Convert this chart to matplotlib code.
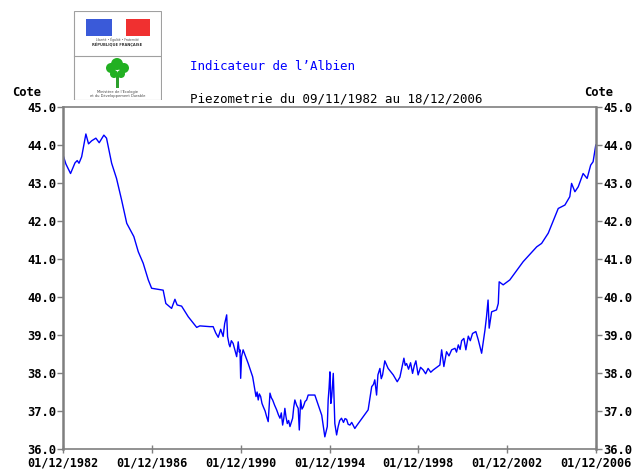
import numpy as np
import matplotlib.pyplot as plt
from matplotlib.patches import Rectangle, Circle

# Piezometrie de l'Albien, dates en annees decimales
annees = [1982.92, 1983.05, 1983.26, 1983.46, 1983.56, 1983.64, 1983.76, 1983.95, 1984.07, 1984.21,
          1984.40, 1984.55, 1984.76, 1984.88, 1985.11, 1985.33, 1985.56, 1985.79, 1986.11, 1986.31,
          1986.53, 1986.76, 1986.91, 1987.43, 1987.55, 1987.81, 1987.96, 1988.06, 1988.26, 1988.56,
          1988.94, 1989.08, 1989.53, 1989.68, 1989.80, 1989.91, 1990.02, 1990.13, 1990.20, 1990.29,
          1990.33, 1990.40, 1990.44, 1990.50, 1990.58, 1990.66, 1990.74, 1990.81, 1990.86, 1990.89,
          1990.92, 1990.96, 1991.03, 1991.26, 1991.46, 1991.61, 1991.66, 1991.71, 1991.76, 1991.82,
          1991.88, 1991.94, 1992.02, 1992.09, 1992.16, 1992.24, 1992.30, 1992.36, 1992.45, 1992.54,
          1992.62, 1992.69, 1992.75, 1992.81, 1992.86, 1992.91, 1992.96, 1993.02, 1993.08, 1993.14,
          1993.20, 1993.26, 1993.31, 1993.36, 1993.44, 1993.51, 1993.56, 1993.62, 1993.68, 1993.74,
          1993.82, 1993.89, 1993.96, 1994.26, 1994.57, 1994.71, 1994.82, 1994.86, 1994.90, 1994.94,
          1994.98, 1995.02, 1995.09, 1995.16, 1995.24, 1995.31, 1995.38, 1995.46, 1995.55, 1995.62,
          1995.69, 1995.76, 1995.84, 1995.92, 1996.06, 1996.14, 1996.66, 1996.82, 1996.90, 1996.96,
          1997.04, 1997.10, 1997.19, 1997.25, 1997.31, 1997.41, 1997.56, 1997.79, 1997.97, 1998.09,
          1998.27, 1998.33, 1998.39, 1998.48, 1998.57, 1998.66, 1998.74, 1998.81, 1998.91, 1999.02,
          1999.14, 1999.25, 1999.36, 1999.48, 1999.59, 1999.89, 1999.97, 2000.07, 2000.19, 2000.30,
          2000.42, 2000.57, 2000.64, 2000.72, 2000.80, 2000.87, 2000.97, 2001.06, 2001.17, 2001.26,
          2001.36, 2001.51, 2001.62, 2001.77, 2001.92, 2001.99, 2002.06, 2002.11, 2002.22, 2002.44,
          2002.52, 2002.56, 2002.74, 2003.04, 2003.64, 2004.25, 2004.47, 2004.77, 2005.22, 2005.52,
          2005.74, 2005.82, 2005.97, 2006.12, 2006.34, 2006.52, 2006.68, 2006.79, 2006.91]
cotes = [43.74, 43.50, 43.25, 43.53, 43.59, 43.52, 43.69, 44.29, 44.03, 44.11,
         44.18, 44.06, 44.26, 44.18, 43.52, 43.12, 42.55, 41.94, 41.59, 41.19,
         40.89, 40.45, 40.23, 40.18, 39.83, 39.70, 39.94, 39.79, 39.76, 39.48,
         39.20, 39.24, 39.22, 39.22, 39.05, 38.94, 39.15, 38.96, 39.30, 39.53,
         38.96, 38.75, 38.69, 38.85, 38.78, 38.60, 38.43, 38.82, 38.55, 38.61,
         37.86, 38.43, 38.61, 38.25, 37.90, 37.38, 37.50, 37.29, 37.45, 37.38,
         37.20, 37.11, 37.00, 36.85, 36.72, 37.47, 37.35, 37.29, 37.15, 37.03,
         36.90, 36.81, 36.95, 36.63, 36.80, 37.07, 36.85, 36.67, 36.75, 36.59,
         36.70, 36.81, 37.10, 37.29, 37.15, 37.07, 36.50, 37.29, 37.05, 37.11,
         37.25, 37.29, 37.42, 37.42, 36.89, 36.32, 36.59, 37.29, 37.60, 38.03,
         37.20, 37.38, 37.99, 36.67, 36.37, 36.59, 36.75, 36.81, 36.70, 36.80,
         36.78, 36.65, 36.63, 36.70, 36.54, 36.61, 37.03, 37.64, 37.70, 37.82,
         37.42, 37.95, 38.12, 37.85, 37.95, 38.32, 38.12, 37.95, 37.77, 37.89,
         38.39, 38.20, 38.25, 38.10, 38.27, 37.99, 38.20, 38.32, 37.95, 38.15,
         38.08, 37.98, 38.12, 38.02, 38.08, 38.21, 38.61, 38.17, 38.56, 38.45,
         38.61, 38.65, 38.55, 38.74, 38.62, 38.85, 38.91, 38.61, 38.97, 38.85,
         39.04, 39.09, 38.87, 38.52, 39.13, 39.48, 39.92, 39.18, 39.61, 39.66,
         39.83, 40.40, 40.32, 40.45, 40.93, 41.32, 41.41, 41.68, 42.33, 42.42,
         42.64, 42.99, 42.77, 42.90, 43.25, 43.12, 43.47, 43.56, 44.00]

graduations_x = [1982.92, 1986.92, 1990.92, 1994.92, 1998.92, 2002.92, 2006.92]
etiquettes_x = ["01/12/1982", "01/12/1986", "01/12/1990", "01/12/1994",
                "01/12/1998", "01/12/2002", "01/12/2006"]
graduations_y = [36, 37, 38, 39, 40, 41, 42, 43, 44, 45]

police = "DejaVu Sans Mono"
gris = "#7f7f7f"

fig = plt.figure(figsize=(6.34, 4.69), dpi=100)
ax = fig.add_axes([63/634, 20/469, 533/634, 342/469])

ax.plot(annees, cotes, color="#0000ff", linewidth=1.0)

ax.set_xlim(graduations_x[0], graduations_x[-1])
ax.set_ylim(36, 45)
ax.set_xticks(graduations_x)
ax.set_xticklabels(etiquettes_x, family=police, fontsize=8.5, fontweight="bold")
ax.set_yticks(graduations_y)
ax.set_yticklabels(["%.1f" % v for v in graduations_y], family=police, fontsize=8.7, fontweight="bold")
ax.tick_params(axis="y", which="both", left=True, right=True, labelleft=True, labelright=True,
               direction="out", length=4, width=1, color=gris, pad=1)
ax.tick_params(axis="x", direction="inout", length=6, width=1, color=gris, pad=2.5)

# le 36.0 remonte un peu, comme sur l'original
for lab in ax.get_yticklabels(which="both")[:1]:
    lab.set_va("center_baseline")
for lab in ax.yaxis.get_majorticklabels():
    pass

for cote in ["left", "right"]:
    ax.spines[cote].set_color(gris)
    ax.spines[cote].set_linewidth(1.8)
for cote in ["top", "bottom"]:
    ax.spines[cote].set_color(gris)
    ax.spines[cote].set_linewidth(1.2)

fig.text(12/634, 1 - 93/469, "Cote", family=police, fontsize=8.7, fontweight="bold", va="center")
fig.text(584/634, 1 - 93/469, "Cote", family=police, fontsize=8.7, fontweight="bold", va="center")
fig.text(190/634, 1 - 67/469, "Indicateur de l\u2019Albien", family=police, fontsize=9,
         color="#0000ff", va="center")
fig.text(190/634, 1 - 99/469, "Piezometrie du 09/11/1982 au 18/12/2006", family=police,
         fontsize=9, color="black", va="center")

# logo
logo = fig.add_axes([73/634, 1 - 100/469, 89/634, 89/469])
logo.set_xlim(0, 89)
logo.set_ylim(89, 0)
logo.axis("off")
logo.add_patch(Rectangle((0.5, 0.5), 88, 88, fill=False, edgecolor="#a0a0a0", linewidth=0.8))
logo.plot([0.5, 88.5], [45, 45], color="#a0a0a0", linewidth=0.8)
logo.add_patch(Rectangle((13, 8), 26, 17, color="#3a5ad9", linewidth=0))
logo.add_patch(Rectangle((53, 8), 24, 17, color="#f03030", linewidth=0))
logo.text(44.5, 29, "Libert\u00e9 \u2022 \u00c9galit\u00e9 \u2022 Fraternit\u00e9", fontsize=2.2,
          ha="center", va="center", color="#444444")
logo.text(44.5, 34, "R\u00c9PUBLIQUE FRAN\u00c7AISE", fontsize=2.6, ha="center", va="center",
          color="#333333", fontweight="bold")
logo.add_patch(Rectangle((43.5, 64), 2.5, 13, color="#2ca02c", linewidth=0))
for cx, cy, r in [(38, 57, 5), (44, 53, 6), (51, 57, 5), (41, 63, 4), (48, 63, 4)]:
    logo.add_patch(Circle((cx, cy), r, color="#22b022", linewidth=0))
logo.text(44.5, 81, "Minist\u00e8re de l\u2019Ecologie", fontsize=2.6, ha="center", va="center",
          color="#444444")
logo.text(44.5, 85, "et du D\u00e9veloppement Durable", fontsize=2.6, ha="center", va="center",
          color="#444444")

plt.savefig("out.png", dpi=100)
